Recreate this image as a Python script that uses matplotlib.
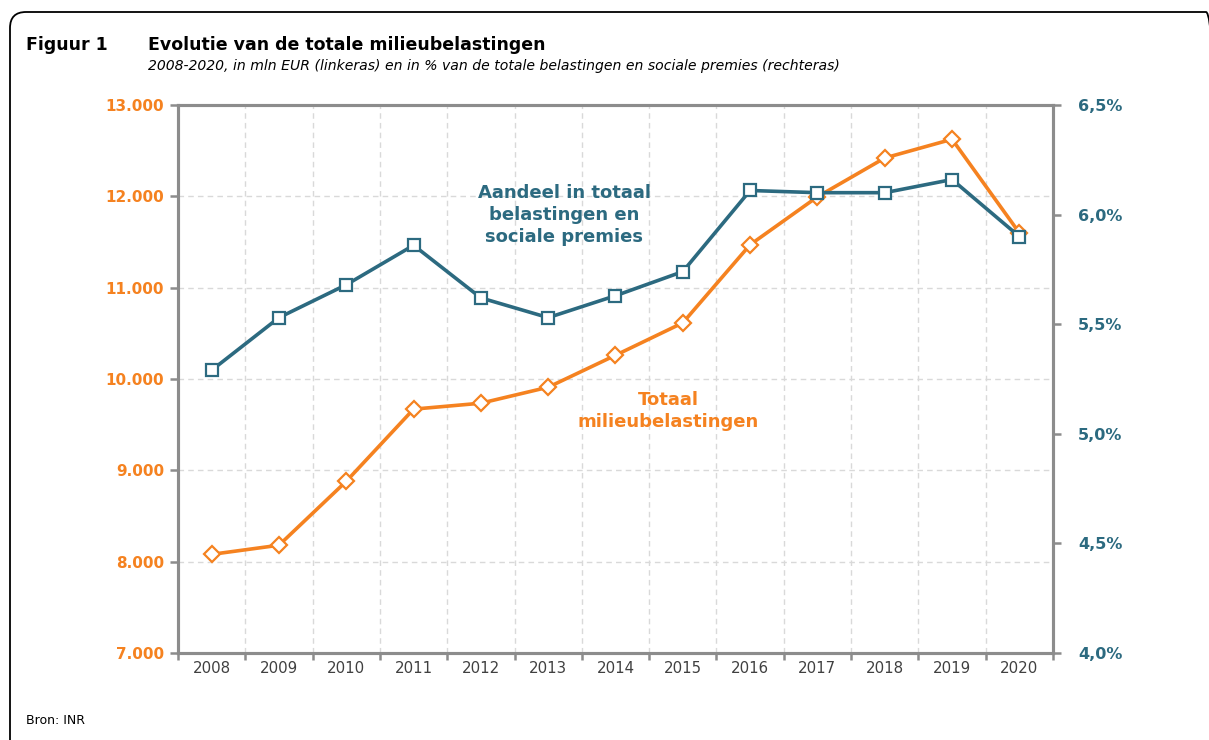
import numpy as np
import matplotlib
matplotlib.use("Agg")
import matplotlib.pyplot as plt
from matplotlib.patches import FancyBboxPatch
from matplotlib.ticker import FuncFormatter, FixedLocator

# data
years = ["2008", "2009", "2010", "2011", "2012", "2013", "2014",
         "2015", "2016", "2017", "2018", "2019", "2020"]
totaal_mln = [8080, 8180, 8880, 9670, 9735, 9910, 10260,
              10615, 11470, 11995, 12420, 12625, 11600]
aandeel_pct = [5.29, 5.53, 5.68, 5.86, 5.62, 5.53, 5.63,
               5.74, 6.11, 6.10, 6.10, 6.16, 5.90]

ORANGE = "#F58220"
TEAL = "#2C6A80"
SPINE = "#8C8C8C"
GRID = "#D9D9D9"

W, H = 1209, 740

plt.rcParams['font.family'] = ['DejaVu Sans']

fig = plt.figure(figsize=(W / 100, H / 100), dpi=100)

# rounded frame around the whole figure (inches)
frame = FancyBboxPatch((0.10, -0.6), 12.12, 7.88,
                       boxstyle="round,pad=0,rounding_size=0.16",
                       transform=fig.dpi_scale_trans, fill=False,
                       edgecolor="black", linewidth=1.3)
fig.patches.append(frame)

ax = fig.add_axes([178 / W, 1 - 653 / H, (1053 - 178) / W, (653 - 105) / H])
ax2 = ax.twinx()

x = np.arange(len(years))

ax.plot(x, totaal_mln, color=ORANGE, lw=2.6, marker="D", ms=8,
        mfc="white", mec=ORANGE, mew=1.6, zorder=3)
ax2.plot(x, aandeel_pct, color=TEAL, lw=2.6, marker="s", ms=9,
         mfc="white", mec=TEAL, mew=1.6, zorder=3)

ax.set_xlim(-0.5, len(years) - 0.5)
ax.set_ylim(7000, 13000)
ax2.set_ylim(4.0, 6.5)

ax.set_yticks(np.arange(7000, 13001, 1000))
ax2.set_yticks(np.arange(4.0, 6.51, 0.5))
ax.yaxis.set_major_formatter(FuncFormatter(lambda v, p: f"{int(v):,}".replace(",", ".")))
ax2.yaxis.set_major_formatter(FuncFormatter(lambda v, p: f"{v:.1f}%".replace(".", ",")))

# year boundaries as ticks + grid, labels at centres
ax.xaxis.set_major_locator(FixedLocator(np.arange(-0.5, len(years), 1.0)))
ax.xaxis.set_minor_locator(FixedLocator(x))
ax.set_xticklabels([""] * (len(years) + 1))
ax.set_xticklabels(years, minor=True)
ax.tick_params(axis="x", which="minor", length=0, pad=6, labelsize=10.8, labelcolor="#404040")
ax.tick_params(axis="x", which="major", length=5, width=1.8, color=SPINE)

ax.tick_params(axis="y", length=6, width=1.8, color=SPINE, labelsize=11, labelcolor=ORANGE, pad=4)
for lab in ax.get_yticklabels():
    lab.set_fontweight("bold")
ax2.tick_params(axis="y", length=6, width=1.8, color=SPINE, labelsize=11.5, labelcolor=TEAL, pad=12)
for lab in ax2.get_yticklabels():
    lab.set_fontweight("bold")

ax.grid(True, axis="both", which="major", color=GRID, linestyle=(0, (4, 3)), linewidth=1)
ax.set_axisbelow(True)

for a in (ax, ax2):
    for s in a.spines.values():
        s.set_color(SPINE)
        s.set_linewidth(2.2)

# series labels (pixel positions, y measured from top)
fig.text(564 / W, 1 - 215 / H, "Aandeel in totaal\nbelastingen en\nsociale premies",
         ha="center", va="center", color=TEAL, fontsize=13, fontweight="bold",
         linespacing=1.25)
fig.text(668 / W, 1 - 411 / H, "Totaal\nmilieubelastingen",
         ha="center", va="center", color=ORANGE, fontsize=13, fontweight="bold",
         linespacing=1.25)

# titles
fig.text(26 / W, 1 - 45 / H, "Figuur 1", fontsize=12.5, fontweight="bold", va="center")
fig.text(148 / W, 1 - 45 / H, "Evolutie van de totale milieubelastingen",
         fontsize=12.5, fontweight="bold", va="center")
fig.text(148 / W, 1 - 66 / H,
         "2008-2020, in mln EUR (linkeras) en in % van de totale belastingen en sociale premies (rechteras)",
         fontsize=10.1, style="italic", va="center")
fig.text(26 / W, 1 - 720 / H, "Bron: INR", fontsize=9, va="center")

fig.savefig("out.png", dpi=100)
